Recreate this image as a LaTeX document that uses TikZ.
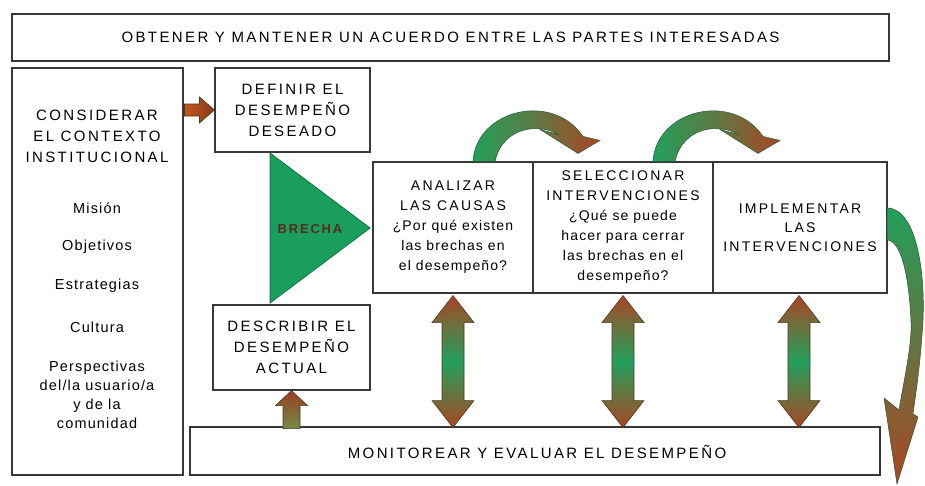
\documentclass[tikz,border=0pt]{standalone}
\usepackage{fontspec}
\setmainfont{Liberation Sans}
\newfontfamily\capsf[LetterSpace=16]{Liberation Sans}
\newfontfamily\lowf[LetterSpace=8]{Liberation Sans}
\newfontfamily\brf[LetterSpace=14]{Liberation Sans Bold}
\usetikzlibrary{calc}
\definecolor{agreen}{RGB}{34,160,92}
\definecolor{abrown}{RGB}{170,70,36}
\definecolor{aolive}{RGB}{150,130,60}
\definecolor{tgreen}{RGB}{26,158,94}
\definecolor{tedge}{RGB}{12,110,60}
\definecolor{edgec}{RGB}{55,55,55}
\definecolor{aedge}{RGB}{80,55,35}
\definecolor{brtext}{RGB}{85,45,28}
\begin{document}
\begin{tikzpicture}[x=1pt,y=-1pt,
  box/.style={draw=edgec,line width=1.1pt,rectangle,inner sep=0pt,align=center,fill=white},
  capt/.style={font=\fontsize{15}{21}\capsf},
  boxt/.style={font=\fontsize{14}{20}\lowf},
  ctxt/.style={font=\fontsize{14.5}{19}\lowf,align=center,inner sep=0pt},
  arrshade/.style={draw=aedge,line width=0.6pt},
  dblarr/.pic={\shade[arrshade,top color=abrown,bottom color=abrown,middle color=agreen]
     (0,0) -- (21,27) -- (11,27) -- (11,105) -- (21,105) -- (0,132) -- (-21,105)
     -- (-11,105) -- (-11,27) -- (-21,27) -- cycle;},
  toparr/.pic={\shade[draw=tedge!70!aedge,line width=0.5pt,left color=agreen,right color=abrown,middle color=agreen!55!abrown]
     (0,0) .. controls (3,-52) and (80,-70) .. (110,-25) -- (127,-21) -- (105,-8)
     -- (67,-32) -- (85,-27) .. controls (68,-38) and (30,-36) .. (22,0) -- cycle;}
]
\useasboundingbox (0,0) rectangle (925,485);
\fill[white] (0,0) rectangle (925,485);

% boxes
\node[box,capt,minimum width=877pt,minimum height=47pt] (top) at (450.5,37.5)
  {OBTENER Y MANTENER UN ACUERDO ENTRE LAS PARTES INTERESADAS};
\node[box,minimum width=171pt,minimum height=407pt] (ctx) at (97.5,271.5) {};
\node[box,capt,minimum width=155pt,minimum height=84pt] (d1) at (292.5,110)
  {DEFINIR EL\\DESEMPEÑO\\DESEADO};
\node[box,capt,minimum width=157pt,minimum height=85pt] (d2) at (291.5,347.5)
  {DESCRIBIR EL\\DESEMPEÑO\\ACTUAL};
\node[box,boxt,minimum width=160pt,minimum height=131pt] (b1) at (453,227.5)
  {{\capsf ANALIZAR}\\{\capsf LAS CAUSAS}\\¿Por qué existen\\las brechas en\\el desempeño?};
\node[box,boxt,minimum width=180pt,minimum height=131pt] (b2) at (623,227.5)
  {{\capsf SELECCIONAR}\\{\capsf INTERVENCIONES}\\¿Qué se puede\\hacer para cerrar\\las brechas en el\\desempeño?};
\node[box,boxt,font=\fontsize{14}{19}\capsf,minimum width=174pt,minimum height=131pt] (b3) at (800,227.5)
  {IMPLEMENTAR\\LAS\\INTERVENCIONES};
\node[box,minimum width=690pt,minimum height=48pt] (mon) at (535,451) {};
\node[capt,inner sep=0pt] (montxt) at (537,452) {MONITOREAR Y EVALUAR EL DESEMPEÑO};

% context texts
\node[capt,align=center,inner sep=0pt] (c1) at (97,136) {CONSIDERAR\\EL CONTEXTO\\INSTITUCIONAL};
\node[ctxt] (c2) at (97,208) {Misión};
\node[ctxt] (c3) at (97,247) {Objetivos};
\node[ctxt] (c4) at (97,286) {Estrategias};
\node[ctxt] (c5) at (97,327) {Cultura};
\node[ctxt] (c6) at (97,395) {Perspectivas\\del/la usuario/a\\y de la\\comunidad};

% brecha triangle
\filldraw[fill=tgreen,draw=tedge,line width=0.8pt] (270,153) -- (370,228) -- (270,303) -- cycle;
\node[font=\fontsize{13}{13}\brf,text=brtext,inner sep=0pt] (brecha) at (310,229) {BRECHA};

% small arrows
\shade[arrshade,left color=abrown!70!orange,right color=abrown!80!black]
  (d1.west) -- ++(-15,-13) -- ++(0,7) -- ++(-15,0) -- ++(0,12) -- ++(15,0) -- ++(0,7) -- cycle;
\shade[arrshade,top color=abrown!90!black,middle color=orange!70!brown,bottom color=aolive!70!agreen]
  (d2.south) -- ++(16,15) -- ++(-7.5,0) -- ++(0,23) -- ++(-17,0) -- ++(0,-23) -- ++(-7.5,0) -- cycle;

% double arrows
\pic at ($(b1.south)+(0,2)$) {dblarr};
\pic at ($(b2.south)+(0,2)$) {dblarr};
\pic at ($(b3.south)+(-1,2)$) {dblarr};

% top curved arrows
\pic at ($(b1.north)+(20,0)$) {toparr};
\pic at ($(b2.north)+(30,0)$) {toparr};

% big right arrow
\shade[draw=tedge!60!aedge,line width=0.5pt,top color=agreen,middle color=aolive,bottom color=abrown]
  (887,208) .. controls (918,208) and (927,280) .. (922,335)
  .. controls (919,375) and (915,398) .. (913,414) -- (918,417) -- (897,484)
  -- (884,398) -- (899,410) .. controls (904,380) and (912,345) .. (911,322)
  .. controls (909,272) and (900,240) .. (887,240) -- cycle;
\end{tikzpicture}
\end{document}
